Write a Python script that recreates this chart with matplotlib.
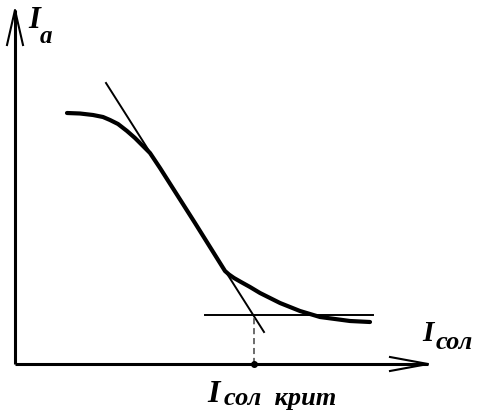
import matplotlib
matplotlib.use("Agg")
import matplotlib.pyplot as plt
import numpy as np

# Schematic anode current vs. solenoid current (coordinates relative to axis origin)
curve_x = [52, 65, 78, 88, 95, 103, 112, 120, 127, 135, 145, 180, 210, 214, 219, 226, 235, 245, 255, 265, 275, 285, 295, 305, 320, 335, 355]
curve_y = [251, 250.5, 249, 247, 244, 240, 233, 226, 219, 211, 196, 141, 93, 89.5, 86, 82, 77, 71, 66, 61, 57, 53, 50, 47, 45, 43, 42]

tangent_x = [91, 249]
tangent_y = [281, 32]

plateau_x = [190, 358]
plateau_y = [49, 49]

crit_x = 239
x_axis_end = 413
y_axis_end = 354

fig = plt.figure(figsize=(4.78, 4.17), dpi=100)
ax = fig.add_axes([0, 0, 1, 1])
ax.set_xlim(-15, 463)
ax.set_ylim(-53, 364)
ax.axis("off")

k = "black"
# axes
ax.plot([0, x_axis_end], [0, 0], color=k, lw=2.2, solid_capstyle="butt")
ax.plot([0, 0], [0, y_axis_end], color=k, lw=2.2, solid_capstyle="butt")
# arrowheads (open)
ax.plot([x_axis_end - 38, x_axis_end, x_axis_end - 38], [7, 0, -7], color=k, lw=1.5)
ax.plot([-8, 0, 8], [y_axis_end - 35, y_axis_end, y_axis_end - 35], color=k, lw=1.5)

# curve
ax.plot(curve_x, curve_y, color=k, lw=3.0, solid_capstyle="round", solid_joinstyle="round")
# tangent
ax.plot(tangent_x, tangent_y, color=k, lw=1.4)
# plateau line
ax.plot(plateau_x, plateau_y, color=k, lw=1.4)
# dashed vertical
ax.plot([crit_x, crit_x], [0, plateau_y[0]], color="#444444", lw=1.1, ls=(0, (4, 2.5)))
ax.plot([crit_x], [0], marker="o", color=k, ms=4)

fnt = dict(family="Liberation Serif", weight="bold", style="italic", color=k)
ax.text(13, 336, "I", fontsize=22, va="baseline", ha="left", **fnt)
ax.text(25, 321, "a", fontsize=18, va="baseline", ha="left", **fnt)

ax.text(407, 23, "I", fontsize=21, va="baseline", ha="left", **fnt)
ax.text(421, 15, "сол", fontsize=19, va="baseline", ha="left", **fnt)

ax.text(192, -38, "I", fontsize=23, va="baseline", ha="left", **fnt)
ax.text(209, -41, "сол  крит", fontsize=19, va="baseline", ha="left", **fnt)

fig.savefig("out.png", dpi=100)
